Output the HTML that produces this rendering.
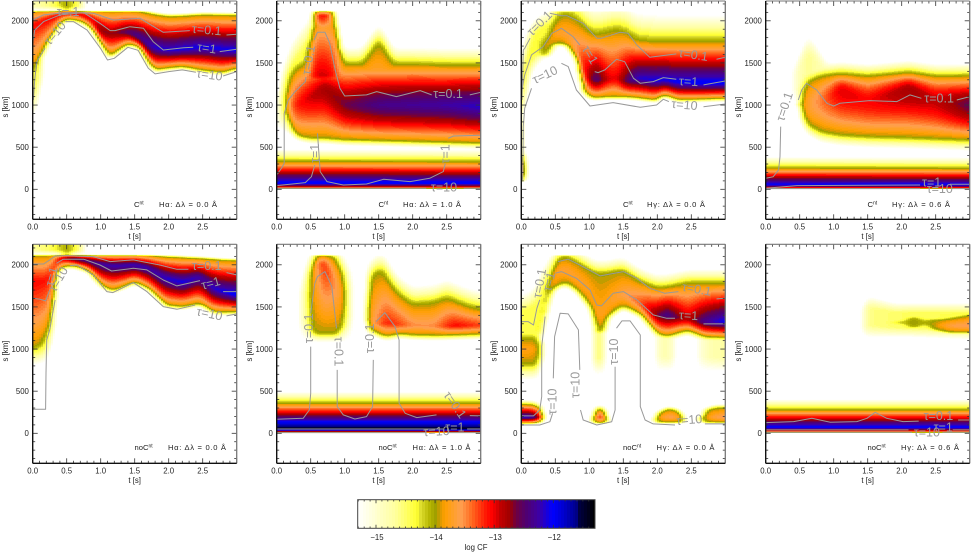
<!DOCTYPE html>
<html lang="en">
<head>
<meta charset="utf-8">
<title>Contribution function panels</title>
<style>
html,body{margin:0;padding:0;background:#fff;}
svg{display:block;font-family:"Liberation Sans",sans-serif;}
.cap{font-size:7.6px;fill:#222;}
.sup{font-size:5px;}
</style>
</head>
<body>
<svg id="figure" xmlns="http://www.w3.org/2000/svg" width="971" height="553" viewBox="0 0 971 553">
<rect x="0" y="0" width="971" height="553" fill="#fff"/>
<g id="panel-1"></g>
<g id="panel-2"></g>
<g id="panel-3"></g>
<g id="panel-4"></g>
<g id="panel-5"></g>
<g id="panel-6"></g>
<g id="panel-7"></g>
<g id="panel-8"></g>
<g id="colorbar"></g>
<g>
<text class="cap" x="134" y="207">C<tspan class="sup" dy="-2.5">nt</tspan></text>
<text class="cap" x="159" y="207" textLength="58">Hα: Δλ = 0.0 Å</text>
<text class="cap" x="378.5" y="207">C<tspan class="sup" dy="-2.5">nt</tspan></text>
<text class="cap" x="403" y="207" textLength="58">Hα: Δλ = 1.0 Å</text>
<text class="cap" x="623" y="207">C<tspan class="sup" dy="-2.5">nt</tspan></text>
<text class="cap" x="647" y="207" textLength="58">Hγ: Δλ = 0.0 Å</text>
<text class="cap" x="867.5" y="207">C<tspan class="sup" dy="-2.5">nt</tspan></text>
<text class="cap" x="892" y="207" textLength="58">Hγ: Δλ = 0.6 Å</text>
<text class="cap" x="134.5" y="450">noC<tspan class="sup" dy="-2.5">nt</tspan></text>
<text class="cap" x="168" y="450" textLength="58">Hα: Δλ = 0.0 Å</text>
<text class="cap" x="378.5" y="450">noC<tspan class="sup" dy="-2.5">nt</tspan></text>
<text class="cap" x="412.5" y="450" textLength="58">Hα: Δλ = 1.0 Å</text>
<text class="cap" x="623" y="450">noC<tspan class="sup" dy="-2.5">nt</tspan></text>
<text class="cap" x="656.5" y="450" textLength="58">Hγ: Δλ = 0.0 Å</text>
<text class="cap" x="867.5" y="450">noC<tspan class="sup" dy="-2.5">nt</tspan></text>
<text class="cap" x="901" y="450" textLength="58">Hγ: Δλ = 0.6 Å</text>
</g>
</svg>
<script>
// ---------- tick labels ----------
const xTickValues = [0, 0.5, 1, 1.5, 2, 2.5];
const xTickLabels = ["0.0", "0.5", "1.0", "1.5", "2.0", "2.5"];
const yTickValues = [0, 500, 1000, 1500, 2000];
const yTickLabels = ["0", "500", "1000", "1500", "2000"];
const cbarTickValues = [-15, -14, -13, -12];
const cbarTickLabels = ["−15", "−14", "−13", "−12"];

// ---------- colour table (log CF -> colour) ----------
const cmapValues = [-15.31,-14.68,-14.31,-14.255,-14.09,-14.0,-13.9,-13.83,-13.56,-13.38,-13.12,-13.04,-12.9,-12.73,-12.63,-12.46,-12.26,-12.02,-11.84,-11.58,-11.55,-11.3];
const cmapColors = ["#ffffff","#ffffa0","#ffff30","#e0e030","#b4b400","#a0a000","#e09a00","#ffa000","#ffa050","#ff6a20","#ff1000","#ff0000","#c00000","#a00000","#700040","#500070","#4000a0","#0000ff","#0000d0","#000080","#000040","#000000"];

// ---------- panel 1: C-nt, H-alpha, 0.0 A ----------
const p1MainT = [0,.1,.25,.4,.5,.7,.85,1,1.1,1.2,1.4,1.55,1.7,1.8,2,2.2,2.5,2.8,3];
const p1MainLo = [1380,1530,1770,1960,2030,2000,1920,1720,1590,1610,1730,1700,1490,1420,1445,1460,1415,1390,1440];
const p1MainMid = [1950,1980,2030,2080,2095,2085,2030,1880,1850,1850,1870,1810,1720,1680,1650,1665,1690,1660,1650];
const p1MainHi = [2118,2118,2118,2118,2118,2118,2118,2118,2118,2118,2118,2115,2090,2070,2050,2055,2070,2065,2065];
const p1MainPeak = [-13.1,-13.05,-13,-13,-13,-12.95,-12.85,-12.55,-12.7,-12.7,-12.45,-12.25,-12.15,-12.1,-12.1,-12.05,-12.05,-12.05,-12];
const p1HaloT = [0,.04,.1,.15];
const p1HaloLo = [820,850,1100,1300];
const p1HaloHi = [1900,1900,1900,1900];
const p1HaloPeak = [-14.4,-14.4,-14.4,-14.7];
const p1TopT = [0,.3,.45,.5,.55,.7,.8];
const p1TopLo = [2118,2118,2118,2118,2118,2118,2118];
const p1TopHi = [2300,2300,2300,2300,2300,2300,2300];
const p1TopPeak = [-14.8,-14.5,-14.1,-14,-14.1,-14.6,-15.4];

// ---------- panel 2: C-nt, H-alpha, 1.0 A ----------
const p2SurfT = [0,3];
const p2SurfLo = [0,0];
const p2SurfMid = [70,70];
const p2SurfHi = [330,325];
const p2SurfPeak = [-11.9,-11.9];
const p2MainT = [.1,.2,.3,.5,.7,1,1.5,2,2.5,3];
const p2MainLo = [1000,720,640,610,610,590,580,570,560,550];
const p2MainMid = [1000,1000,1000,1100,1200,1000,1000,1000,1000,980];
const p2MainHi = [1000,1350,1450,1500,1500,1480,1480,1480,1470,1470];
const p2MainPeak = [-14.2,-13.4,-13.1,-12.9,-12.75,-12.6,-12.35,-12.3,-12.25,-12.15];
const p2SpikeT = [.42,.5,.55,.65,.8,.85,.92,.98];
const p2SpikeLo = [1200,1200,1200,1200,1200,1200,1200,1200];
const p2SpikeMid = [1350,1350,1350,1350,1350,1350,1350,1350];
const p2SpikeHi = [1500,1800,2118,2118,2118,2100,1800,1480];
const p2SpikePeak = [-13.9,-13.3,-13,-12.9,-13,-13.2,-13.5,-14];
const p2CapT = [.52,.65,.8];
const p2CapLo = [1850,1850,1850];
const p2CapMid = [2060,2060,2060];
const p2CapHi = [2118,2118,2118];
const p2CapPeak = [-13.5,-13,-13.3];
const p2BumpT = [1.25,1.35,1.5,1.6,1.72];
const p2BumpLo = [1300,1300,1300,1300,1300];
const p2BumpMid = [1400,1400,1420,1400,1400];
const p2BumpHi = [1480,1600,1760,1640,1480];
const p2BumpPeak = [-13.9,-13.7,-13.7,-13.7,-13.9];
const p2HaloT = [0,.05,.1,.2,.4,.55];
const p2HaloLo = [700,700,650,700,900,1100];
const p2HaloHi = [1100,1300,1500,1750,2000,2110];
const p2HaloPeak = [-15.3,-14.9,-14.4,-14.35,-14.4,-14.6];

// ---------- panel 3: C-nt, H-gamma, 0.0 A ----------
const p3MainT = [.3,.4,.5,.65,.8,.9,1,1.1,1.25,1.4,1.55,1.7,2,2.1,2.3,2.6,3];
const p3MainLo = [1600,1600,1740,1730,1560,1180,1100,1090,1100,1100,1100,1090,1060,1125,1065,1070,1080];
const p3MainMid = [1650,1700,1850,1850,1700,1500,1320,1298,1300,1320,1280,1320,1290,1300,1270,1260,1260];
const p3MainHi = [1700,1790,2010,2080,2030,1950,1870,1832,1860,1890,1860,1770,1750,1750,1750,1750,1750];
const p3MainPeak = [-14,-13.85,-13.7,-13.65,-13.55,-13.1,-12.8,-12.3,-12.9,-13.05,-12.5,-12.15,-12.05,-12.05,-12,-11.95,-11.95];
const p3HaloT = [0,.05,.15,.3,.5,.6];
const p3HaloLo = [700,900,1350,1500,1600,1800];
const p3HaloHi = [1500,1800,2000,2100,2130,2130];
const p3HaloPeak = [-14.35,-14.35,-14.35,-14.35,-14.4,-14.6];
const p3FootT = [0,.03,.06,.08];
const p3FootLo = [110,110,110,110];
const p3FootMid = [220,220,220,220];
const p3FootHi = [400,400,400,400];
const p3FootPeak = [-13,-13.2,-14,-14.8];
const p3StripT = [0,.03,.05];
const p3StripLo = [100,100,100];
const p3StripHi = [1000,1000,1000];
const p3StripPeak = [-14.4,-14.5,-15.3];

// ---------- panel 4: C-nt, H-gamma, 0.6 A ----------
const p4SurfT = [0,3];
const p4SurfLo = [0,0];
const p4SurfMid = [50,50];
const p4SurfHi = [250,245];
const p4SurfPeak = [-11.95,-11.95];
const p4MainT = [.45,.5,.6,.8,1.1,1.5,2.1,2.5,3];
const p4MainLo = [1000,950,783,690,650,630,617,605,590];
const p4MainMid = [1000,1020,1000,1050,1180,1050,1190,1050,1000];
const p4MainHi = [1000,1100,1270,1340,1369,1340,1385,1340,1345];
const p4MainPeak = [-14.6,-14.05,-13.7,-13.45,-12.95,-13.05,-12.75,-12.9,-12.55];
const p4PlumeT = [.35,.5,.6,.7,.85,1];
const p4PlumeLo = [1050,1050,1050,1050,1050,1100];
const p4PlumeHi = [1400,1650,1850,1800,1600,1450];
const p4PlumePeak = [-15.3,-14.8,-14.6,-14.7,-14.8,-15.1];

// ---------- panel 5: no C-nt, H-alpha, 0.0 A ----------
const p5MainT = [0,.15,.25,.3,.35,.45,.6,.8,1,1.15,1.25,1.5,1.7,1.95,2.2,2.45,2.65,2.8,3];
const p5MainLo = [990,1060,1270,1540,1900,1985,1990,1940,1760,1700,1715,1800,1720,1525,1505,1545,1445,1440,1445];
const p5MainMid = [1800,1800,1850,1950,2050,2085,2075,2050,2010,1990,1990,2000,1960,1840,1790,1860,1720,1680,1640];
const p5MainHi = [2118,2118,2118,2118,2118,2118,2118,2118,2118,2118,2118,2118,2110,2095,2085,2075,2065,2055,2050];
const p5MainPeak = [-13.05,-13.1,-13.1,-13.05,-13,-12.85,-12.4,-12.3,-12.2,-12.2,-12.2,-12.15,-12.15,-12.1,-12.05,-12.2,-12.1,-12.05,-11.95];
const p5HaloT = [0,.2,.3,.36,.42];
const p5HaloLo = [790,830,1100,1700,1900];
const p5HaloHi = [1400,1500,1800,2050,2100];
const p5HaloPeak = [-14.35,-14.35,-14.4,-14.7,-15.2];
const p5TopT = [0,.3,.45,.5,.55,.7,.8];
const p5TopLo = [2118,2118,2118,2118,2118,2118,2118];
const p5TopHi = [2300,2300,2300,2300,2300,2300,2300];
const p5TopPeak = [-14.7,-14.4,-14.1,-14,-14.1,-14.6,-15.4];

// ---------- panel 6: no C-nt, H-alpha, 1.0 A ----------
const p6SurfT = [0,3];
const p6SurfLo = [0,0];
const p6SurfMid = [50,50];
const p6SurfHi = [356,356];
const p6SurfPeak = [-11.4,-11.4];
const p6BlobAT = [.44,.48,.55,.7,.9,1,1.04];
const p6BlobALo = [1500,1250,1190,1190,1190,1300,1500];
const p6BlobAMid = [1600,1600,2000,2030,1700,1600,1600];
const p6BlobAHi = [1700,1900,2100,2118,2060,1850,1700];
const p6BlobAPeak = [-14.5,-14,-13.7,-13.1,-13.6,-13.85,-14.5];
const p6HazeAT = [.3,.45,.7,1,1.15];
const p6HazeALo = [1150,1050,1050,1050,1150];
const p6HazeAHi = [1700,2150,2150,2150,1900];
const p6HazeAPeak = [-15.3,-14.5,-14.4,-14.5,-15.3];
const p6BlobBT = [1.28,1.33,1.4,1.45,1.55,1.6,1.7,1.8,2,2.3,2.5,2.6,2.8,3];
const p6BlobBLo = [1400,1250,1227,1200,1170,1155,1170,1187,1170,1165,1167,1170,1175,1180];
const p6BlobBMid = [1420,1300,1300,1300,1305,1306,1300,1290,1280,1270,1275,1275,1280,1280];
const p6BlobBHi = [1450,1780,1860,1900,1919,1880,1741,1640,1523,1543,1603,1570,1504,1464];
const p6BlobBPeak = [-14.5,-14,-13.6,-13.5,-13.3,-13.15,-13.2,-13.25,-13.5,-13.5,-13.2,-13.05,-13.15,-13.25];

// ---------- panel 7: no C-nt, H-gamma, 0.0 A ----------
const p7MainT = [.25,.3,.33,.4,.5,.65,.8,1,1.1,1.15,1.25,1.3,1.5,1.75,2,2.15,2.45,2.7,3];
const p7MainLo = [1250,1147,1300,1583,1741,1800,1721,1523,1227,1195,1247,1405,1523,1424,1187,1155,1227,1147,1140];
const p7MainMid = [1260,1250,1400,1700,1900,1950,1850,1700,1450,1400,1450,1550,1650,1550,1400,1405,1350,1320,1325];
const p7MainHi = [1270,1300,1424,1741,2038,2097,2038,1940,1892,1892,1892,1900,1931,1800,1721,1730,1780,1780,1780];
const p7MainPeak = [-14.5,-13.8,-13.7,-13.65,-13.65,-13.65,-13.65,-13.7,-13.72,-13.75,-13.72,-13.7,-13.6,-13.3,-12.6,-12.3,-12.9,-12.3,-12];
const p7LeftT = [0,.15,.25,.3,.36];
const p7LeftLo = [830,830,830,830,830];
const p7LeftMid = [1000,1000,1000,1000,1000];
const p7LeftHi = [1120,1120,1120,1120,1120];
const p7LeftPeak = [-13.75,-13.75,-13.9,-14.3,-15.3];
const p7HaloT = [0,.2,.3,.4,.5,.6];
const p7HaloLo = [950,950,1100,1350,1650,1850];
const p7HaloHi = [1650,1750,1950,2100,2130,2130];
const p7HaloPeak = [-14.4,-14.4,-14.4,-14.4,-14.5,-14.7];
const p7DripAT = [1.02,1.1,1.2,1.26];
const p7DripALo = [680,680,680,680];
const p7DripAHi = [1400,1400,1400,1400];
const p7DripAPeak = [-15.4,-14.5,-14.5,-15.4];
const p7DripBT = [1.95,2.05,2.2,2.3];
const p7DripBLo = [720,720,720,720];
const p7DripBHi = [1350,1350,1350,1350];
const p7DripBPeak = [-15.3,-14.8,-14.8,-15.3];
const p7DripCT = [2.55,2.75,3];
const p7DripCLo = [720,720,720];
const p7DripCHi = [1350,1350,1350];
const p7DripCPeak = [-15.3,-14.8,-14.7];
const p7FootAT = [0,.15,.25,.3,.35];
const p7FootALo = [120,120,125,135,170];
const p7FootAMid = [190,190,190,190,190];
const p7FootAHi = [340,340,320,280,220];
const p7FootAPeak = [-12.1,-12.1,-12.6,-13.4,-14.4];
const p7FootBT = [1,1.05,1.12,1.2,1.27,1.32];
const p7FootBLo = [125,125,125,125,125,125];
const p7FootBMid = [190,190,190,190,190,190];
const p7FootBHi = [150,220,300,300,220,150];
const p7FootBPeak = [-15,-14.2,-13.2,-13.1,-14.2,-15];
const p7FootCT = [1.9,2,2.15,2.3,2.4,2.45];
const p7FootCLo = [130,130,130,130,130,130];
const p7FootCMid = [190,190,190,190,190,190];
const p7FootCHi = [150,230,290,270,200,150];
const p7FootCPeak = [-15,-13.9,-13.55,-13.6,-14.1,-15];
const p7FootDT = [2.55,2.7,2.85,3];
const p7FootDLo = [130,130,130,130];
const p7FootDMid = [190,190,190,190];
const p7FootDHi = [150,260,300,300];
const p7FootDPeak = [-15,-13.9,-13.6,-13.5];

// ---------- panel 8: no C-nt, H-gamma, 0.6 A ----------
const p8SurfT = [0,3];
const p8SurfLo = [3,3];
const p8SurfMid = [67,67];
const p8SurfHi = [277,277];
const p8SurfPeak = [-11.95,-11.95];
const p8HaloT = [1.38,1.5,1.9,2.1,3];
const p8HaloLo = [1150,1120,1130,1130,1100];
const p8HaloHi = [1500,1650,1560,1560,1560];
const p8HaloPeak = [-15.3,-14.6,-14.5,-14.45,-14.4];
const p8CoreT = [1.8,2,2.15,2.35,2.5,2.7,3];
const p8CoreLo = [1290,1280,1260,1280,1230,1200,1200];
const p8CoreMid = [1315,1315,1315,1315,1290,1275,1275];
const p8CoreHi = [1340,1350,1370,1350,1340,1360,1400];
const p8CorePeak = [-14.5,-14.2,-13.95,-14.1,-13.9,-13.6,-13.5];

// ---------- tau contours (null = gap for label) ----------
const p1Tau01T = [0,.157,.5,.89,1.19,1.58,1.82,1.92,2.31,2.5,2.85,3];
const p1Tau01S = [2010,2070,2097,2090,2010,2030,1911,1864,1884,null,1832,1840];
const p1Tau1T = [0,.03,.16,.4,.75,.99,1.14,1.21,1.43,1.63,1.77,1.92,2.22,2.36,2.56,2.75,3];
const p1Tau1S = [1733,1890,1990,2070,2097,1970,1884,1884,1930,1911,1753,1654,1681,1686,null,1634,1662];
const p1Tau10T = [.01,.03,.06,.18,.3,.48,.6,.8,1,1.1,1.2,1.4,1.55,1.7,1.8,2,2.2,2.4,2.6,2.8,3];
const p1Tau10S = [1060,1298,1515,1674,null,1990,1990,1890,1670,1535,1555,1685,1650,1436,1370,1397,1417,1390,null,1345,1397];

const p2Tau01T = [0,.07,.11,.11,.17,.27,.42,.43,.47,.55,.6,.71,.78,.86,.93,1,1.32,1.47,1.76,2.11,2.28,2.5,2.84,3];
const p2Tau01S = [170,250,310,900,1060,1160,1278,1330,null,1772,1864,1864,1733,1417,1200,1108,1120,1160,1100,1171,1120,null,1120,1151];
const p2Tau1T = [0,.42,.51,.56,.57,.6,.64,.74,.98,1.32,1.57,1.96,2.25,2.45,2.48,2.49,2.52,2.6,3];
const p2Tau1S = [44,79,150,289,null,665,210,91,51,63,119,91,130,210,309,null,605,633,641];
const p2Tau10T = [0,2.2,2.45,2.75,3];
const p2Tau10S = [12,12,null,12,12];

const p3Tau01T = [.01,.03,.05,.13,.27,.42,.59,.67,.91,1.11,1.18,1.45,1.57,1.7,1.89,2.28,2.5,2.87,3];
const p3Tau01S = [1060,1654,1674,1793,null,2090,2061,2061,1970,1793,1793,1864,1852,1713,1567,1607,null,1543,1567];
const p3Tau1T = [.01,.05,.15,.32,.45,.59,.76,.86,1,1.08,1.13,1.23,1.4,1.52,1.65,1.75,1.94,2.09,2.28,2.5,2.68,3];
const p3Tau1S = [1180,1357,1595,1694,1852,1911,1812,1713,null,1397,1385,1417,1543,1515,1318,1258,1278,1326,1306,null,1239,1286];
const p3Tau10T = [.02,.03,.05,.15,.35,.59,.69,.81,1.01,1.35,1.75,1.99,2.09,2.17,2.4,2.68,3];
const p3Tau10S = [110,744,961,1199,null,1496,1456,1179,989,1029,973,1001,1068,1041,null,981,1013];

const p4Tau01T = [0,.11,.19,.21,.22,.3,.48,.53,.6,.75,.9,1,1.09,1.53,1.93,2.12,2.29,2.5,2.81,3];
const p4Tau01S = [130,150,230,388,744,null,1060,1179,1258,1179,1021,989,1021,1053,1041,1120,1080,null,1060,1100];
const p4Tau1T = [0,.46,2.27,2.5,2.71,3];
const p4Tau1S = [12,44,51,null,59,59];
const p4Tau10T = [0,2.27,2.5,2.75,3];
const p4Tau10S = [8,8,null,8,8];

const p5Tau01T = [0,.16,.25,.33,.5,.89,1.14,1.48,1.87,2.12,2.29,2.5,2.85,3];
const p5Tau01S = [2010,2010,2058,2105,2109,2097,2038,2058,1998,1947,1947,null,1907,1880];
const p5Tau1T = [0,.11,.19,.25,.3,.35,.45,.75,.99,1.16,1.48,1.68,1.92,2.12,2.46,2.6,2.8,3];
const p5Tau1S = [1603,1591,1571,1702,null,2018,2066,2066,1998,1927,1959,1939,1820,1749,1812,null,1682,1682];
const p5Tau10T = [0,.19,.196,.206,.25,.33,.45,.55,.65,.89,1.09,1.18,1.48,1.68,1.92,2.12,2.39,2.6,2.85,3];
const p5Tau10S = [285,285,712,1108,1227,1583,null,1990,1998,1880,1682,1670,1789,1682,1504,1472,1523,null,1393,1417];

const p6Tau01T = [0,.39,.48,.5,.5,.5,.5,.56,.6,.71,.81,.88,.9,.89,.89,.98,1.15,1.32,1.41,1.42,1.44,1.46,1.59,1.74,1.8,1.8,1.89,2.06,2.35,2.6,2.84,3];
const p6Tau01S = [166,178,277,475,1029,null,1425,1781,1860,1919,1741,1246,null,752,317,218,170,198,317,871,null,1326,1433,1266,1108,356,237,186,218,null,210,206];
const p6Tau1T = [0,2.45,2.6,2.8,3];
const p6Tau1S = [51,51,null,51,51];
const p6Tau10T = [0,2.2,2.35,2.5,3];
const p6Tau10S = [8,8,null,8,8];

const p7Tau01T = [0,.1,.18,.23,.27,.4,.54,.69,.86,1.16,1.5,1.7,1.89,2.11,2.31,2.6,2.87,3];
const p7Tau01S = [1326,1326,1286,1484,1583,null,2038,2066,1998,1868,1919,1840,1721,1662,1682,null,1595,1603];
const p7Tau1T = [0,.18,.27,.3,.3,.35,.42,.5,.59,.81,1.01,1.11,1.18,1.35,1.5,1.7,1.94,2.14,2.26,2.45,2.68,3];
const p7Tau1S = [206,206,277,435,1029,1385,null,1900,1919,1840,1702,1523,1512,1662,1682,1583,1405,1365,1365,null,1298,1298];
const p7Tau10T = [0,.27,.42,.46,.46,.47,.49,.57,.69,.84,.86,.8,.87,.91,1.11,1.33,1.38,1.38,1.38,1.4,1.48,1.6,1.75,1.75,1.82,1.94,2.26,2.45,2.7,3];
const p7Tau10S = [99,99,138,237,null,653,1148,1425,1417,1227,752,null,277,158,99,138,277,791,null,1247,1334,1334,1167,317,158,111,99,null,111,111];

const p8Tau01T = [0,.41,.68,.95,1.34,1.49,1.61,1.78,2.02,2.25,2.5,2.83,3];
const p8Tau01S = [127,139,178,131,139,178,249,178,139,145,null,158,158];
const p8Tau1T = [0,2.1,2.4,2.75,3];
const p8Tau1S = [40,40,null,40,40];
const p8Tau10T = [0,2.15,2.37,2.6,3];
const p8Tau10S = [12,12,null,12,12];

// ---------- contour labels: text / time / height / tilt ----------
const p1LabelText = ["τ=0.1","τ=1","τ=10","τ=10","τ=.1"];
const p1LabelT = [2.56,2.56,2.6,.33,.52];
const p1LabelS = [1890,1674,1357,1852,2105];
const p1LabelTilt = [5,8,8,-50,0];
const p2LabelText = ["τ=0.1","τ=0.1","τ=1","τ=1","τ=10"];
const p2LabelT = [2.52,.47,.56,2.48,2.46];
const p2LabelS = [1132,1535,427,420,20];
const p2LabelTilt = [0,-80,-90,-90,0];
const p3LabelText = ["τ=0.1","τ=0.1","τ=1","τ=1","τ=10","τ=10"];
const p3LabelT = [.27,2.53,1.01,2.46,.35,2.4];
const p3LabelS = [1970,1595,1595,1278,1357,1001];
const p3LabelTilt = [-45,8,60,3,-25,5];
const p4LabelText = ["τ=0.1","τ=0.1","τ=1","τ=10"];
const p4LabelT = [.28,2.55,2.44,2.56];
const p4LabelS = [981,1080,79,4];
const p4LabelTilt = [-72,0,0,0];
const p5LabelText = ["τ=0.1","τ=1","τ=10","τ=1","τ=10"];
const p5LabelT = [2.56,2.62,2.6,.28,.38];
const p5LabelS = [1986,1781,1417,1860,1828];
const p5LabelTilt = [0,-15,12,-75,-60];
const p6LabelText = ["τ=0.1","τ=0.1","τ=0.1","τ=0.1","τ=1","τ=10"];
const p6LabelT = [.475,.91,1.37,2.62,2.62,2.35];
const p6LabelS = [1246,970,1128,336,67,20];
const p6LabelTilt = [-90,90,-90,55,0,-3];
const p7LabelText = ["τ=0.1","τ=1","τ=10","τ=10","τ=10","τ=10","τ=0.1","τ=1"];
const p7LabelT = [.27,.41,.46,.8,1.36,2.47,2.58,2.46];
const p7LabelS = [1781,1800,376,574,970,158,1709,1397];
const p7LabelTilt = [-80,-75,-90,-90,-90,-5,10,3];
const p8LabelText = ["τ=0.1","τ=1","τ=10"];
const p8LabelT = [2.54,2.61,2.37];
const p8LabelS = [206,67,12];
const p8LabelTilt = [0,0,0];

// ---------- assembling the panels ----------
const SVGNS = "http://www.w3.org/2000/svg";
const CAP = 2118;
function band(t, lo, mid, hi, peak, fadeLo, fadeHi, cap, round) {
  return {t: t, lo: lo, mid: mid, hi: hi, peak: peak, fadeLo: fadeLo, fadeHi: fadeHi,
          cap: cap === undefined ? CAP : cap, round: round === undefined ? 0.2 : round};
}
const panels = [
 {id:"panel-1", left:32.7, row:0,
  bands:[band(p1HaloT,p1HaloLo,p1HaloLo,p1HaloHi,p1HaloPeak,30,40),
         band(p1TopT,p1TopLo,p1TopLo,p1TopHi,p1TopPeak,0,0,9999),
         band(p1MainT,p1MainLo,p1MainMid,p1MainHi,p1MainPeak,50,40)],
  contours:[[p1Tau01T,p1Tau01S],[p1Tau1T,p1Tau1S],[p1Tau10T,p1Tau10S]],
  labels:[p1LabelText,p1LabelT,p1LabelS,p1LabelTilt]},
 {id:"panel-2", left:276.7, row:0,
  bands:[band(p2SurfT,p2SurfLo,p2SurfMid,p2SurfHi,p2SurfPeak,0,150),
         band(p2HaloT,p2HaloLo,p2HaloLo,p2HaloHi,p2HaloPeak,60,80),
         band(p2MainT,p2MainLo,p2MainMid,p2MainHi,p2MainPeak,75,210,CAP,0.5),
         band(p2SpikeT,p2SpikeLo,p2SpikeMid,p2SpikeHi,p2SpikePeak,60,70),
         band(p2CapT,p2CapLo,p2CapMid,p2CapHi,p2CapPeak,0,20),
         band(p2BumpT,p2BumpLo,p2BumpMid,p2BumpHi,p2BumpPeak,60,220)],
  contours:[[p2Tau01T,p2Tau01S],[p2Tau1T,p2Tau1S],[p2Tau10T,p2Tau10S]],
  labels:[p2LabelText,p2LabelT,p2LabelS,p2LabelTilt]},
 {id:"panel-3", left:521.3, row:0,
  bands:[band(p3HaloT,p3HaloLo,p3HaloLo,p3HaloHi,p3HaloPeak,30,40),
         band(p3StripT,p3StripLo,p3StripLo,p3StripHi,p3StripPeak,20,60),
         band(p3FootT,p3FootLo,p3FootMid,p3FootHi,p3FootPeak,30,60),
         band(p3MainT,p3MainLo,p3MainMid,p3MainHi,p3MainPeak,45,330)],
  contours:[[p3Tau01T,p3Tau01S],[p3Tau1T,p3Tau1S],[p3Tau10T,p3Tau10S]],
  labels:[p3LabelText,p3LabelT,p3LabelS,p3LabelTilt]},
 {id:"panel-4", left:765.7, row:0,
  bands:[band(p4SurfT,p4SurfLo,p4SurfMid,p4SurfHi,p4SurfPeak,0,140),
         band(p4PlumeT,p4PlumeLo,p4PlumeLo,p4PlumeHi,p4PlumePeak,60,100),
         band(p4MainT,p4MainLo,p4MainMid,p4MainHi,p4MainPeak,140,150,CAP,0.8)],
  contours:[[p4Tau01T,p4Tau01S],[p4Tau1T,p4Tau1S],[p4Tau10T,p4Tau10S]],
  labels:[p4LabelText,p4LabelT,p4LabelS,p4LabelTilt]},
 {id:"panel-5", left:32.7, row:1,
  bands:[band(p5HaloT,p5HaloLo,p5HaloLo,p5HaloHi,p5HaloPeak,30,40),
         band(p5TopT,p5TopLo,p5TopLo,p5TopHi,p5TopPeak,0,0,9999),
         band(p5MainT,p5MainLo,p5MainMid,p5MainHi,p5MainPeak,50,30)],
  contours:[[p5Tau01T,p5Tau01S],[p5Tau1T,p5Tau1S],[p5Tau10T,p5Tau10S]],
  labels:[p5LabelText,p5LabelT,p5LabelS,p5LabelTilt]},
 {id:"panel-6", left:276.7, row:1,
  bands:[band(p6SurfT,p6SurfLo,p6SurfMid,p6SurfHi,p6SurfPeak,0,140),
         band(p6HazeAT,p6HazeALo,p6HazeALo,p6HazeAHi,p6HazeAPeak,20,20),
         band(p6BlobAT,p6BlobALo,p6BlobAMid,p6BlobAHi,p6BlobAPeak,110,110),
         band(p6BlobBT,p6BlobBLo,p6BlobBMid,p6BlobBHi,p6BlobBPeak,70,230)],
  contours:[[p6Tau01T,p6Tau01S],[p6Tau1T,p6Tau1S],[p6Tau10T,p6Tau10S]],
  labels:[p6LabelText,p6LabelT,p6LabelS,p6LabelTilt]},
 {id:"panel-7", left:521.3, row:1,
  bands:[band(p7HaloT,p7HaloLo,p7HaloLo,p7HaloHi,p7HaloPeak,30,40),
         band(p7LeftT,p7LeftLo,p7LeftMid,p7LeftHi,p7LeftPeak,200,220),
         band(p7DripAT,p7DripALo,p7DripALo,p7DripAHi,p7DripAPeak,30,20),
         band(p7DripBT,p7DripBLo,p7DripBLo,p7DripBHi,p7DripBPeak,30,20),
         band(p7DripCT,p7DripCLo,p7DripCLo,p7DripCHi,p7DripCPeak,30,20),
         band(p7FootAT,p7FootALo,p7FootAMid,p7FootAHi,p7FootAPeak,20,60),
         band(p7FootBT,p7FootBLo,p7FootBMid,p7FootBHi,p7FootBPeak,20,40),
         band(p7FootCT,p7FootCLo,p7FootCMid,p7FootCHi,p7FootCPeak,20,40),
         band(p7FootDT,p7FootDLo,p7FootDMid,p7FootDHi,p7FootDPeak,20,50),
         band(p7MainT,p7MainLo,p7MainMid,p7MainHi,p7MainPeak,70,170)],
  contours:[[p7Tau01T,p7Tau01S],[p7Tau1T,p7Tau1S],[p7Tau10T,p7Tau10S]],
  labels:[p7LabelText,p7LabelT,p7LabelS,p7LabelTilt]},
 {id:"panel-8", left:765.7, row:1,
  bands:[band(p8SurfT,p8SurfLo,p8SurfMid,p8SurfHi,p8SurfPeak,0,130),
         band(p8HaloT,p8HaloLo,p8HaloLo,p8HaloHi,p8HaloPeak,50,40),
         band(p8CoreT,p8CoreLo,p8CoreMid,p8CoreHi,p8CorePeak,40,50)],
  contours:[[p8Tau01T,p8Tau01S],[p8Tau1T,p8Tau1S],[p8Tau10T,p8Tau10S]],
  labels:[p8LabelText,p8LabelT,p8LabelS,p8LabelTilt]}
];

// ---------- axis functions ----------
const PANEL_W = 204;
const KM_PX = 0.08425;
const rowZero = [189.3, 433.3];
const rowTop = [1, 244.3];
const rowBottom = [219.3, 463.3];
function xOf(p, t) { return p.left + t / 3 * PANEL_W; }
function yOf(p, s) { return rowZero[p.row] - s * KM_PX; }
function sOf(p, y) { return (rowZero[p.row] - y) / KM_PX; }

function hexRgb(h) { return [parseInt(h.substr(1,2),16), parseInt(h.substr(3,2),16), parseInt(h.substr(5,2),16)]; }
const cmapRgb = cmapColors.map(hexRgb);
const LEVEL = 0.05;
function colorOf(v) {
  const q = Math.round(v / LEVEL) * LEVEL;
  if (q <= cmapValues[0]) return null;
  const n = cmapValues.length;
  if (q >= cmapValues[n-1]) return "rgb(0,0,0)";
  let i = 0;
  while (i < n - 2 && q > cmapValues[i+1]) i++;
  const f = (q - cmapValues[i]) / (cmapValues[i+1] - cmapValues[i]);
  const a = cmapRgb[i], b = cmapRgb[i+1];
  return "rgb(" + Math.round(a[0]+(b[0]-a[0])*f) + "," + Math.round(a[1]+(b[1]-a[1])*f) + "," + Math.round(a[2]+(b[2]-a[2])*f) + ")";
}
function lookup(ts, vs, t) {
  const n = ts.length;
  if (t <= ts[0]) return vs[0];
  if (t >= ts[n-1]) return vs[n-1];
  let i = 0;
  while (i < n - 2 && t > ts[i+1]) i++;
  return vs[i] + (vs[i+1] - vs[i]) * (t - ts[i]) / (ts[i+1] - ts[i]);
}
function bandAtTime(b, t) {
  if (t < b.t[0] || t > b.t[b.t.length-1]) return null;
  return {lo: lookup(b.t,b.lo,t), mid: lookup(b.t,b.mid,t), hi: lookup(b.t,b.hi,t), peak: lookup(b.t,b.peak,t),
          fadeLo: b.fadeLo, fadeHi: b.fadeHi, cap: b.cap, round: b.round};
}
function profile(c, s) {
  if (s < 0 || s > c.cap) return -99;
  const faint = c.peak < -14;
  const e = faint ? Math.max(-15.4, -14 - (-14 - c.peak) * 5) : -14;
  if (s >= c.lo && s <= c.hi) {
    const m = c.mid > c.lo ? c.mid : (c.lo + c.hi) / 2;
    let u;
    if (s <= m) u = m > c.lo ? (s - c.lo) / (m - c.lo) : 1;
    else u = c.hi > m ? (c.hi - s) / (c.hi - m) : 1;
    if (faint) u *= 1.7;
    u = Math.max(0, Math.min(1, u));
    return e + (c.peak - e) * ((1 - c.round) * u + c.round * Math.sin(u * Math.PI / 2));
  }
  const d = s < c.lo ? c.lo - s : s - c.hi;
  const fade = s < c.lo ? c.fadeLo : c.fadeHi;
  if (fade === 0) return -99;
  return e - 1.35 * d / fade;
}

// ---------- drawing ----------
function make(tag, parent) {
  const el = document.createElementNS(SVGNS, tag);
  parent.appendChild(el);
  return el;
}
function tickLine(parent, x1, y1, x2, y2, name) {
  const el = make("line", parent);
  el.setAttribute("x1", x1); el.setAttribute("y1", y1);
  el.setAttribute("x2", x2); el.setAttribute("y2", y2);
  el.setAttribute("stroke", "#333");
  el.setAttribute("stroke-width", "0.8");
  
  
  return el;
}
function label(parent, x, y, str, size, anchor, name) {
  const el = make("text", parent);
  el.setAttribute("x", x);
  el.setAttribute("y", y);
  el.setAttribute("font-size", size);
  el.setAttribute("text-anchor", anchor);
  el.setAttribute("fill", "#222");
  el.textContent = str;
  
  
  return el;
}
const tKernel = [1,2,3,4,3,2,1];
const sKernel = [1,2,1];
function fieldFor(p, top, rows) {
  const cols = PANEL_W / 2;
  const raw = [];
  for (let c = 0; c < cols; c++) {
    const t = (c * 2 + 1) / PANEL_W * 3;
    const active = p.bands.map(function (b) { return bandAtTime(b, t); }).filter(Boolean);
    const col = new Float64Array(rows);
    for (let r = 0; r < rows; r++) {
      const s = sOf(p, top + r + 0.5);
      let v = -15.6;
      for (let k = 0; k < active.length; k++) {
        const w = profile(active[k], s);
        if (w > v) v = w;
      }
      col[r] = v;
    }
    raw.push(col);
  }
  const out = [];
  for (let c = 0; c < cols; c++) {
    const col = new Float64Array(rows);
    for (let r = 0; r < rows; r++) {
      let sum = 0, wt = 0;
      for (let i = 0; i < tKernel.length; i++) {
        const cc = Math.max(0, Math.min(cols - 1, c + i - 3));
        sum += raw[cc][r] * tKernel[i];
        wt += tKernel[i];
      }
      col[r] = sum / wt;
    }
    const smooth = new Float64Array(rows);
    for (let r = 0; r < rows; r++) {
      let sum = 0, wt = 0;
      for (let i = 0; i < sKernel.length; i++) {
        const rr = Math.max(0, Math.min(rows - 1, r + i - 1));
        sum += col[rr] * sKernel[i];
        wt += sKernel[i];
      }
      smooth[r] = sOf(p, top + r + 0.5) < 0 ? -99 : sum / wt;
    }
    out.push(smooth);
  }
  return out;
}
function drawHeat(p, g) {
  const top = Math.round(rowTop[p.row]);
  const bottom = Math.round(rowBottom[p.row]);
  const left = Math.round(p.left);
  const rows = bottom - top;
  const field = fieldFor(p, top, rows);
  const heat = make("g", g);
  heat.setAttribute("shape-rendering", "crispEdges");
  
  
  field.forEach(function (col, c) {
    let runStart = 0, runColor = null;
    for (let r = 0; r <= rows; r++) {
      const colr = r < rows ? colorOf(col[r]) : null;
      if (colr !== runColor) {
        if (runColor !== null) {
          const rc = make("rect", heat);
          rc.setAttribute("x", left + c * 2);
          rc.setAttribute("y", top + runStart);
          rc.setAttribute("width", 2);
          rc.setAttribute("height", r - runStart);
          rc.setAttribute("fill", runColor);
          
          
        }
        runStart = r;
        runColor = colr;
      }
    }
  });
}
function drawContours(p, g) {
  const names = ["tau-0-1-contour", "tau-1-contour", "tau-10-contour"];
  p.contours.forEach(function (c, idx) {
    const ts = c[0], ss = c[1];
    let d = "", pen = false;
    for (let i = 0; i < ts.length; i++) {
      if (ss[i] === null) { pen = false; continue; }
      d += (pen ? "L" : "M") + xOf(p, ts[i]).toFixed(1) + " " + yOf(p, ss[i]).toFixed(1);
      pen = true;
    }
    const path = make("path", g);
    path.setAttribute("d", d);
    path.setAttribute("fill", "none");
    path.setAttribute("stroke", "#999");
    path.setAttribute("stroke-width", "1");
    path.setAttribute("stroke-linejoin", "round");
    
    
  });
  const L = p.labels;
  L[0].forEach(function (str, i) {
    const x = xOf(p, L[1][i]), y = yOf(p, L[2][i]);
    const el = make("text", g);
    el.setAttribute("x", x);
    el.setAttribute("y", y);
    el.setAttribute("font-size", "12.5");
    el.setAttribute("text-anchor", "middle");
    el.setAttribute("dominant-baseline", "central");
    el.setAttribute("fill", "#9a9a9a");
    el.setAttribute("transform", "rotate(" + L[3][i] + " " + x.toFixed(1) + " " + y.toFixed(1) + ")");
    el.textContent = str;
    
    
  });
}
function drawAxes(p, g) {
  const top = rowTop[p.row], bottom = rowBottom[p.row];
  const left = p.left, right = p.left + PANEL_W;
  for (let i = 0; i <= 30; i++) {
    const t = i / 10;
    const x = xOf(p, t);
    const len = i % 5 === 0 ? 5 : 2.5;
    tickLine(g, x, bottom, x, bottom - len, "x-tick");
    tickLine(g, x, top, x, top + len, "x-tick-top");
  }
  for (let s = -300; s <= 2200; s += 100) {
    const y = yOf(p, s);
    const len = s % 500 === 0 ? 5 : 2.5;
    tickLine(g, left, y, left + len, y, "y-tick");
    tickLine(g, right, y, right - len, y, "y-tick-right");
  }
  const edges = [[left,top,right,top,"#777",1.1,"top-axis"],[right,top,right,bottom,"#777",1.3,"right-axis"],[left,top,left,bottom,"#111",1.4,"y-axis"],[left,bottom,right,bottom,"#111",1.4,"x-axis"]];
  edges.forEach(function (e) {
    const l = make("line", g);
    l.setAttribute("x1", e[0]); l.setAttribute("y1", e[1]);
    l.setAttribute("x2", e[2]); l.setAttribute("y2", e[3]);
    l.setAttribute("stroke", e[4]);
    l.setAttribute("stroke-width", e[5]);
    
    
  });
  xTickValues.forEach(function (t, i) {
    label(g, xOf(p, t), bottom + 10.2, xTickLabels[i], "7.8", "middle", "x-tick-label");
  });
  yTickValues.forEach(function (s, i) {
    label(g, left - 3.8, yOf(p, s) + 2.9, yTickLabels[i], "7.8", "end", "y-tick-label");
  });
  label(g, left + PANEL_W / 2, bottom + 19.5, "t [s]", "7.8", "middle", "x-axis-title");
  const yc = (rowZero[p.row] - 1000 * KM_PX) + 2;
  const yt = label(g, left - 27.5, yc, "s [km]", "7.8", "middle", "y-axis-title");
  yt.setAttribute("transform", "rotate(-90 " + (left - 27.5) + " " + yc + ")");
  yt.setAttribute("dy", "2.8");
}
panels.forEach(function (p) {
  const g = document.getElementById(p.id);
  drawHeat(p, g);
  drawContours(p, g);
  drawAxes(p, g);
});

// ---------- colour bar ----------
const cbarG = document.getElementById("colorbar");
const CB_LEFT = 357.7, CB_RIGHT = 595, CB_TOP = 499.7, CB_BOTTOM = 528.3;
function cbX(v) { return 376 + (v + 15) * 59.1; }
const cbCells = make("g", cbarG);
cbCells.setAttribute("shape-rendering", "crispEdges");


for (let x = Math.round(CB_LEFT); x < Math.round(CB_RIGHT); x++) {
  const v = -15 + (x + 0.5 - 376) / 59.1;
  const c = colorOf(v) || "#ffffff";
  const r = make("rect", cbCells);
  r.setAttribute("x", x);
  r.setAttribute("y", CB_TOP);
  r.setAttribute("width", 1);
  r.setAttribute("height", CB_BOTTOM - CB_TOP);
  r.setAttribute("fill", c);
  
  
}
for (let i = 0; i <= 39; i++) {
  const v = -15.3 + i / 10;
  const x = cbX(v);
  const major = Math.abs(v - Math.round(v)) < 0.01;
  const len = major ? 3.5 : 1.8;
  tickLine(cbarG, x, CB_TOP, x, CB_TOP + len, "colorbar-tick");
  tickLine(cbarG, x, CB_BOTTOM, x, CB_BOTTOM - len, "colorbar-tick");
}
const cbFrame = make("rect", cbarG);
cbFrame.setAttribute("x", CB_LEFT);
cbFrame.setAttribute("y", CB_TOP);
cbFrame.setAttribute("width", CB_RIGHT - CB_LEFT);
cbFrame.setAttribute("height", CB_BOTTOM - CB_TOP);
cbFrame.setAttribute("fill", "none");
cbFrame.setAttribute("stroke", "#444");
cbFrame.setAttribute("stroke-width", "1");


cbarTickValues.forEach(function (v, i) {
  label(cbarG, cbX(v) + 1, 540, cbarTickLabels[i], "7.8", "middle", "colorbar-tick-label");
});
label(cbarG, 476, 550, "log CF", "7.8", "middle", "colorbar-title");
</script>
</body>
</html>
